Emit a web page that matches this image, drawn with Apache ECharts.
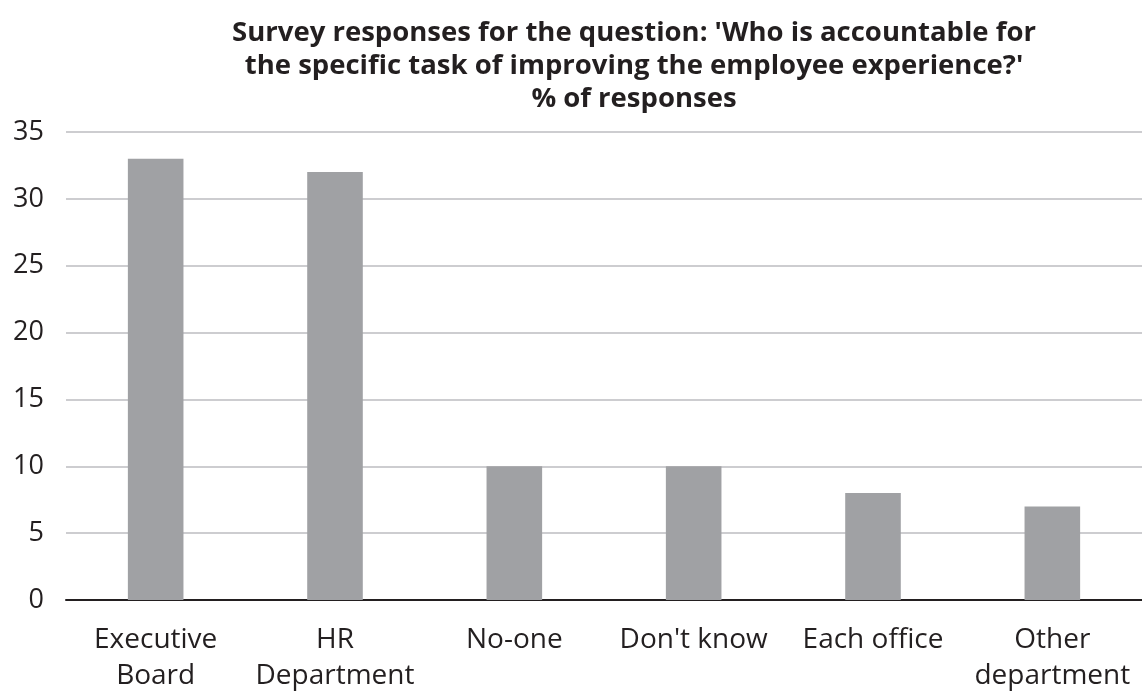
<!DOCTYPE html>
<html>
<head>
<meta charset="utf-8">
<script src="https://cdn.jsdelivr.net/npm/echarts@6/dist/echarts.min.js"></script>
<style>
html,body{margin:0;padding:0;background:#fff;}
#c{width:1142px;height:694px;}
</style>
</head>
<body>
<div id="c"></div>
<script>
const categories = ["Executive\nBoard", "HR\nDepartment", "No-one", "Don't know", "Each office", "Other\ndepartment"];
const values = [33, 32, 10, 10, 8, 7];
const titleText = "Survey responses for the question: 'Who is accountable for\nthe specific task of improving the employee experience?'\n% of responses";

const chart = echarts.init(document.getElementById('c'));
chart.setOption({
  backgroundColor: '#fff',
  animation: false,
  title: {
    text: titleText,
    left: 629,
    textAlign: 'center',
    top: 12,
    textStyle: {
      fontFamily: 'Open Sans',
      fontWeight: 'bold',
      fontSize: 27.5,
      lineHeight: 33,
      color: '#231f20'
    }
  },
  grid: { left: 66, right: -2, top: 132, bottom: 91, containLabel: false },
  xAxis: {
    type: 'category',
    data: categories,
    axisLine: { lineStyle: { color: '#231f20', width: 2 } },
    axisTick: { show: false },
    axisLabel: {
      fontFamily: 'Open Sans',
      fontSize: 28,
      lineHeight: 36,
      color: '#231f20',
      margin: 22,
      interval: 0
    }
  },
  yAxis: {
    type: 'value',
    min: 0,
    max: 35,
    interval: 5,
    axisLine: { show: false },
    axisTick: { show: false },
    splitLine: { lineStyle: { color: '#bcbdc0', width: 1.5 } },
    axisLabel: {
      fontFamily: 'Open Sans',
      fontSize: 27,
      color: '#231f20',
      margin: 22
    }
  },
  series: [{
    type: 'bar',
    data: values,
    barWidth: '31%',
    itemStyle: { color: '#a0a1a4' }
  }]
});
</script>
</body>
</html>
